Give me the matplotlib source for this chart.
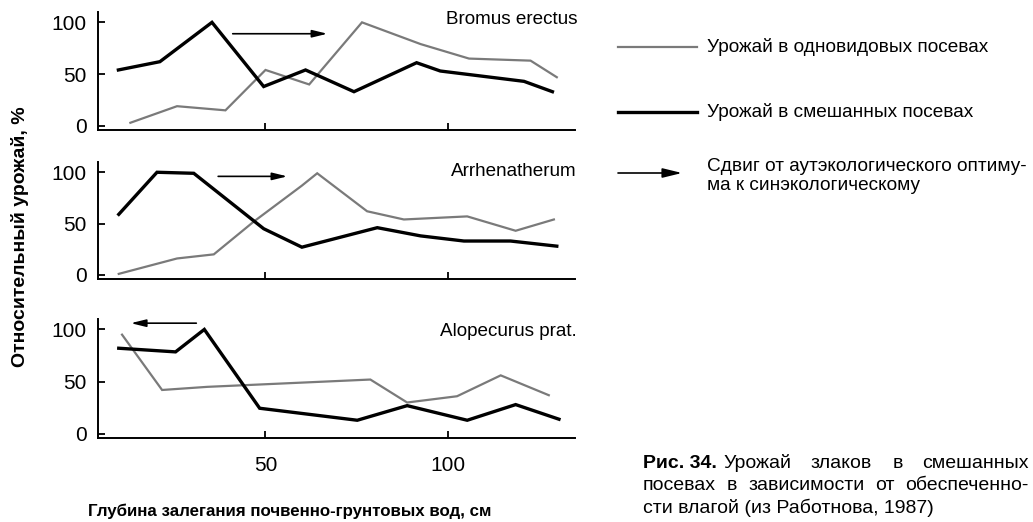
import matplotlib
matplotlib.use("Agg")
import matplotlib.pyplot as plt
from matplotlib.lines import Line2D
from matplotlib.patches import FancyArrowPatch

plt.rcParams['font.family'] = ['Liberation Sans', 'DejaVu Sans']

# --- данные: глубина грунтовых вод (см) и относительный урожай (%) ---
species = ["Bromus erectus", "Arrhenatherum", "Alopecurus prat."]

bromus_mono_x = [12.9, 25.7, 39, 50, 62, 76.5, 92.6, 105.9, 122.8, 130]
bromus_mono_y = [3, 19, 15, 54, 40, 100, 79, 65, 63, 47]
bromus_mix_x = [9.6, 21, 35.3, 49.5, 61, 74.3, 91.5, 98, 121, 128.8]
bromus_mix_y = [54, 62, 100, 38, 54, 33, 61, 53, 43, 33]

arrh_mono_x = [9.7, 25.7, 35.8, 46.8, 60, 64.2, 77.9, 88, 105.4, 118.7, 129.2]
arrh_mono_y = [1, 16, 20, 52, 87, 99, 62, 54, 57, 43, 54]
arrh_mix_x = [9.7, 20.2, 30.3, 49.5, 60, 80.7, 92.6, 104.5, 117.3, 130]
arrh_mix_y = [59, 100, 99, 45, 27, 46, 38, 33, 33, 28]

alop_mono_x = [10.6, 21.6, 34, 78.8, 88.9, 102.6, 114.6, 127.8]
alop_mono_y = [95, 42, 45, 52, 30, 36, 56, 37]
alop_mix_x = [9.7, 25.3, 33.2, 48.4, 75.2, 88.9, 105.4, 118.7, 130.6]
alop_mix_y = [82, 78.5, 100, 24.5, 13, 27, 13, 28, 14]

# сдвиг оптимума: начало, конец, уровень стрелки
shift_start = [41, 37, 31]
shift_end = [67, 56, 13]
shift_level = [89, 96, 106]

mono_x = [bromus_mono_x, arrh_mono_x, alop_mono_x]
mono_y = [bromus_mono_y, arrh_mono_y, alop_mono_y]
mix_x = [bromus_mix_x, arrh_mix_x, alop_mix_x]
mix_y = [bromus_mix_y, arrh_mix_y, alop_mix_y]

W, H = 1033, 522
fig = plt.figure(figsize=(W / 100, H / 100), dpi=100)

def fx(px):
    return px / W

def fy(py):
    return 1 - py / H

MONO_COLOR = '#7a7a7a'
ARROW = '-|>,head_length=0.9,head_width=0.22'
panels = [(12, 130), (162, 279), (319, 438)]  # верх/низ осей в пикселях
label_y = [20, 172, 332]

for i, (top, bottom) in enumerate(panels):
    ax = fig.add_axes([fx(98), fy(bottom), fx(575) - fx(98), (bottom - top) / H])
    ax.plot(mono_x[i], mono_y[i], color=MONO_COLOR, lw=1.6, solid_joinstyle='miter')
    ax.plot(mix_x[i], mix_y[i], color='black', lw=2.4, solid_joinstyle='miter')
    ax.annotate("", xy=(shift_end[i], shift_level[i]), xytext=(shift_start[i], shift_level[i]),
                arrowprops=dict(arrowstyle=ARROW, lw=1.2, color='black', shrinkA=0, shrinkB=0))
    ax.set_xlim(4, 135)
    ax.set_ylim(-4, 110)
    ax.spines[['top', 'right']].set_visible(False)
    for s in ('left', 'bottom'):
        ax.spines[s].set_linewidth(1.4)
    ax.set_yticks([0, 50, 100])
    ax.set_xticks([50, 100])
    ax.tick_params(direction='in', length=5, width=1.3, labelsize=15, pad=8)
    ax.tick_params(axis='x', pad=13)
    if i < 2:
        ax.set_xticklabels([])
    fig.text(fx(577), fy(label_y[i]), species[i], ha='right', va='center', fontsize=13.6)

fig.text(fx(20), fy(237), "Относительный урожай, %", rotation=90, ha='center', va='center',
         fontsize=14, fontweight='bold')
fig.text(fx(290), fy(511), "Глубина залегания почвенно-грунтовых вод, см", ha='center',
         va='center', fontsize=12.2, fontweight='bold')

# легенда справа
fig.add_artist(Line2D([fx(618), fx(697)], [fy(47), fy(47)], color=MONO_COLOR, lw=1.6))
fig.add_artist(Line2D([fx(618), fx(697)], [fy(112), fy(112)], color='black', lw=2.4))
fig.add_artist(FancyArrowPatch((fx(618), fy(173)), (fx(682), fy(173)),
                               transform=fig.transFigure, arrowstyle=ARROW, lw=1.2,
                               color='black', shrinkA=0, shrinkB=0, mutation_scale=13))
fig.text(fx(707), fy(47), "Урожай в одновидовых посевах", va='center', fontsize=13.7)
fig.text(fx(707), fy(112), "Урожай в смешанных посевах", va='center', fontsize=13.7)
fig.text(fx(707), fy(176), "Сдвиг от аутэкологического оптиму-\nма к синэкологическому",
         va='center', fontsize=13.7, linespacing=1.2)

# подпись к рисунку; первые две строки выровнены по ширине
CAP_SIZE = 14
renderer = fig.canvas.get_renderer()

def justify(words, x0, x1, py):
    texts = [fig.text(0, fy(py), w, va='center', fontsize=CAP_SIZE) for w in words]
    widths = [t.get_window_extent(renderer).width for t in texts]
    gap = (x1 - x0 - sum(widths)) / (len(words) - 1)
    x = x0
    for t, w in zip(texts, widths):
        t.set_x(fx(x))
        x += w + gap

fig.text(fx(643), fy(463), "Рис. 34.", va='center', fontsize=CAP_SIZE, fontweight='bold')
justify(["Урожай", "злаков", "в", "смешанных"], 723, 1029, 463)
justify(["посевах", "в", "зависимости", "от", "обеспеченно-"], 643, 1029, 486)
fig.text(fx(643), fy(508), "сти влагой (из Работнова, 1987)", va='center', fontsize=CAP_SIZE)

fig.savefig("out.png", dpi=100)
